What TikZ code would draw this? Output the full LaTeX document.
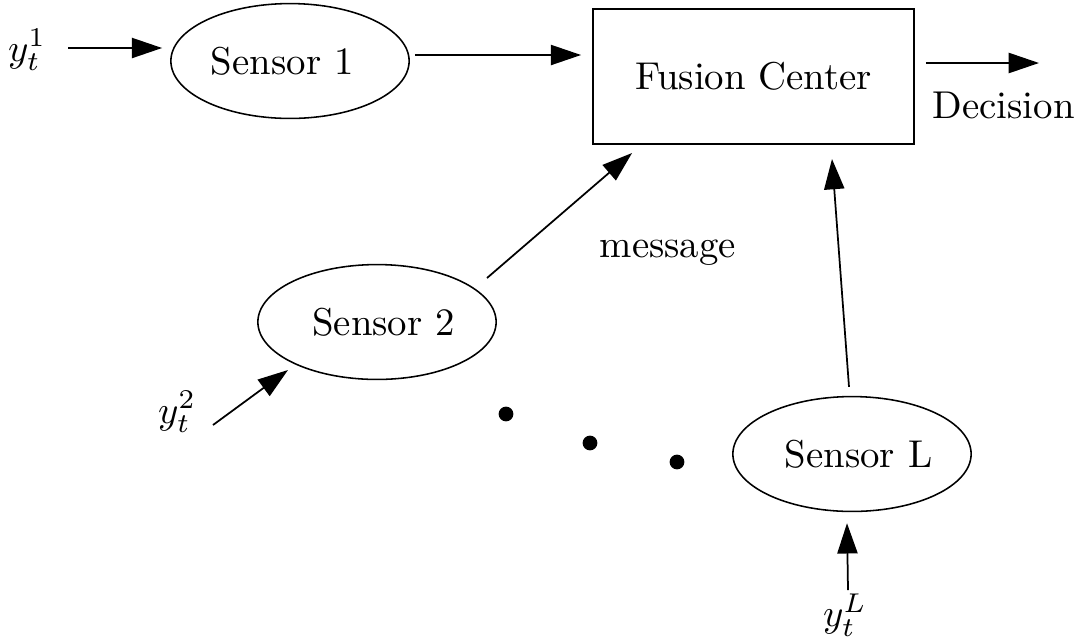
\documentclass[tikz,border=0pt]{standalone}
\usetikzlibrary{shapes.geometric,arrows.meta}
\begin{document}
\begin{tikzpicture}[x=0.2577pt,y=-0.2577pt,
  sensor/.style={ellipse,draw,line width=0.4pt,inner sep=0pt,
    minimum width=61.4pt,minimum height=29.6pt},
  center/.style={rectangle,draw,line width=0.5pt,inner sep=0pt,
    minimum width=82.7pt,minimum height=34.8pt},
  arr/.style={line width=0.45pt,-{Triangle[length=7.8pt,width=5.2pt]}},
  dot/.style={circle,fill,inner sep=0pt,minimum size=3.8pt},
  lbl/.style={inner sep=0pt}]
  \useasboundingbox (0,0) rectangle (1081,636);

  % the fusion centre and the sensors
  \node[center] (fc) at (753.5,76.5) {Fusion Center};
  \node[sensor,label={[xshift=-2pt]center:Sensor 1}] (s1) at (290,61) {};
  \node[sensor,label={[xshift=1.7pt]center:Sensor 2}] (s2) at (377,322) {};
  \node[sensor,label={[xshift=1.7pt]center:Sensor L}] (sL) at (852,454) {};

  % observations entering the sensors
  \node[lbl] (y1) at (27,50) {$y_t^1$};
  \node[lbl] (y2) at (177,412) {$y_t^2$};
  \node[lbl] (yL) at (845,615) {$y_t^L$};

  \node[lbl,anchor=base west] (dec) at (932,118) {Decision};
  \node[lbl,anchor=base west] (msg) at (599,257) {message};
  \coordinate (out) at (1039,63);

  % ellipsis between sensor 2 and sensor L
  \node[dot] (d1) at (506,414) {};
  \node[dot] (d2) at (590,443) {};
  \node[dot] (d3) at (677,462) {};

  % connectors
  \draw[arr] ([shift={(41,-2)}]y1.center) -- ([shift={(-8,-13)}]s1.west);
  \draw[arr] ([shift={(5,-6)}]s1.east) -- ([shift={(-11,-21.5)}]fc.west);
  \draw[arr] ([shift={(11,-13.5)}]fc.east) -- (out);
  \draw[arr] ([shift={(110,-44)}]s2.center) -- ([shift={(40,8)}]fc.south west);
  \draw[arr] ([shift={(-3,-9)}]sL.north) -- ([shift={(78.5,14)}]fc.south);
  \draw[arr] ([shift={(36,13)}]y2.center) -- ([shift={(-89,48)}]s2.center);
  \draw[arr] ([shift={(3,-25)}]yL.center) -- ([shift={(-5,11)}]sL.south);
\end{tikzpicture}
\end{document}
